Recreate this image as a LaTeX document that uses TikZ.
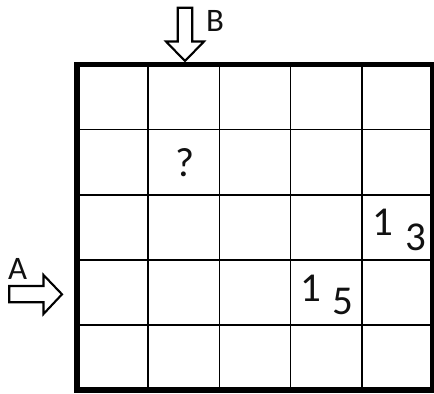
\documentclass[tikz,border=0pt]{standalone}
\usepackage{fontspec}
\setmainfont{Carlito}
\usetikzlibrary{positioning}
\definecolor{clrline}{HTML}{000000}
\definecolor{clrtext}{HTML}{111111}

\begin{document}
\begin{tikzpicture}[
    x=0.03cm, y=-0.03cm,
    gridline/.style={line width=1.5pt, color=clrline},
    frameline/.style={line width=4.3pt, color=clrline, line join=miter},
    blockarrow/.style={draw=clrline, fill=white, line width=1.8pt, line join=miter},
    letter/.style={font=\fontsize{28}{30}\selectfont, text=clrtext, inner sep=0pt, anchor=base},
    digit/.style={font=\fontsize{35}{38}\selectfont, text=clrtext, inner sep=0pt, anchor=base},
]
\useasboundingbox (0,0) rectangle (434,394);
% grid lines
\foreach \i in {1,...,4} {
    \draw[gridline] ({77+71.2*\i},64.5) -- ({77+71.2*\i},390);
    \draw[gridline] (77,{64.5+65.1*\i}) -- (433,{64.5+65.1*\i});
}
\draw[frameline] (77,64.5) rectangle (433,390);
% entry arrows
\draw[blockarrow] (177.7,7.7) -- (192.3,7.7) -- (192.3,41.5) -- (204,41.5) -- (185,61)
    -- (166,41.5) -- (177.7,41.5) -- cycle;
\draw[blockarrow] (9.3,286) -- (43.5,286) -- (43.5,275) -- (62,294.3) -- (43.5,314)
    -- (43.5,302.3) -- (9.3,302.3) -- cycle;
\node[letter] (lbl_b) at (215,32) {B};
\node[letter] (lbl_a) at (17.5,280) {A};
% cell entries
\node[digit] (q_22) at (185,176.5) {?};
\node[digit] (one_35) at (383,236) {1};
\node[digit] (three_35) at (415.5,250.5) {3};
\node[digit] (one_44) at (311,302) {1};
\node[digit] (five_44) at (343,315) {5};
\end{tikzpicture}
\end{document}
